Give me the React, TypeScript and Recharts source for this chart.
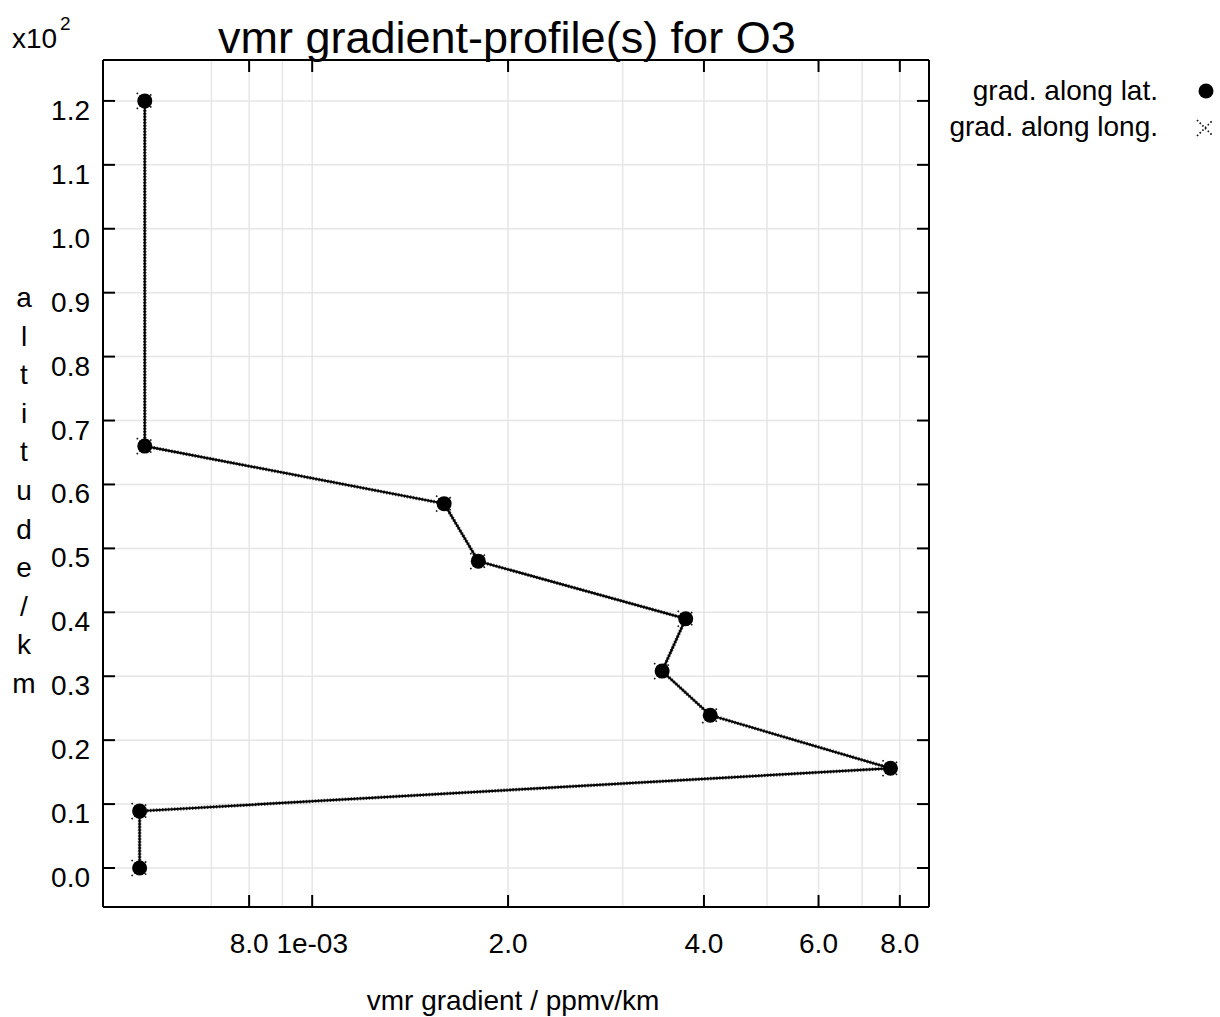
import {
  CartesianGrid,
  ReferenceLine,
  Scatter,
  ScatterChart,
  XAxis,
  YAxis,
} from 'recharts'

const FONT = '"Liberation Sans", Arial, sans-serif'

// altitude in km, gradients in ppmv/km
const altitudes = [120, 66, 57, 48, 39, 30.8, 23.9, 15.6, 8.9, 0]
const latGrad = [5.53e-4, 5.53e-4, 1.595e-3, 1.8e-3, 3.75e-3, 3.45e-3, 4.09e-3, 7.74e-3, 5.43e-4, 5.43e-4]
const lonGrad = [5.53e-4, 5.53e-4, 1.595e-3, 1.8e-3, 3.75e-3, 3.45e-3, 4.09e-3, 7.74e-3, 5.43e-4, 5.43e-4]

const xTicks = [8e-4, 1e-3, 2e-3, 4e-3, 6e-3, 8e-3]
const xTickLabels = ['8.0', '1e-03', '2.0', '4.0', '6.0', '8.0']
const xGrid = [7e-4, 8e-4, 9e-4, 1e-3, 2e-3, 3e-3, 4e-3, 5e-3, 6e-3, 7e-3, 8e-3]
const yTicks = [0, 10, 20, 30, 40, 50, 60, 70, 80, 90, 100, 110, 120]
const yLabelLetters = ['a', 'l', 't', 'i', 't', 'u', 'd', 'e', '/', 'k', 'm']

const latData = altitudes.map((a, i) => ({ x: latGrad[i], y: a }))
const lonData = altitudes.map((a, i) => ({ x: lonGrad[i], y: a }))

function BottomTick(props: any) {
  const { x, y, index } = props
  return (
    <g>
      <line x1={x} x2={x} y1={y} y2={y - 12} stroke='#000' strokeWidth={2} />
      <text x={x} y={y + 46} textAnchor='middle' fontSize={28} fill='#000' fontFamily={FONT}>
        {xTickLabels[index]}
      </text>
    </g>
  )
}

function TopTick(props: any) {
  const { x, y } = props
  return <line x1={x} x2={x} y1={y} y2={y + 12} stroke='#000' strokeWidth={2} />
}

function LeftTick(props: any) {
  const { x, y, payload } = props
  return (
    <g>
      <line x1={x} x2={x + 12} y1={y} y2={y} stroke='#000' strokeWidth={2} />
      <text x={x - 13} y={y + 19} textAnchor='end' fontSize={28} fill='#000' fontFamily={FONT}>
        {(payload.value / 100).toFixed(1)}
      </text>
    </g>
  )
}

function RightTick(props: any) {
  const { x, y } = props
  return <line x1={x} x2={x - 12} y1={y} y2={y} stroke='#000' strokeWidth={2} />
}

function Dot(props: any) {
  const { cx, cy } = props
  return <circle cx={cx} cy={cy} r={7.5} fill='#000' />
}

function Cross(props: any) {
  const { cx, cy } = props
  const d = 8
  return (
    <g stroke='#111' strokeWidth={1.6} strokeDasharray='1.6 2.2'>
      <line x1={cx - d} y1={cy - d} x2={cx + d} y2={cy + d} />
      <line x1={cx - d} y1={cy + d} x2={cx + d} y2={cy - d} />
    </g>
  )
}

export default function App() {
  return (
    <div style={{ position: 'absolute', left: 0, top: 0, width: 1220, height: 1017, background: '#fff', fontFamily: FONT }}>
      <ScatterChart width={1220} height={1017} margin={{ top: 59, right: 290, bottom: 50, left: 13 }}>
        <CartesianGrid xAxisId='b' yAxisId='l' vertical={false} stroke='#e6e6e6' strokeWidth={1.5} />
        {xGrid.map((v) => (
          <ReferenceLine key={v} xAxisId='b' yAxisId='l' x={v} stroke='#e6e6e6' strokeWidth={1.5} />
        ))}
        <XAxis
          xAxisId='b'
          dataKey='x'
          type='number'
          scale='log'
          domain={[4.77e-4, 8.87e-3]}
          allowDataOverflow
          ticks={xTicks}
          interval={0}
          tickSize={0}
          tickMargin={0}
          height={60}
          tick={<BottomTick />}
          axisLine={{ stroke: '#000', strokeWidth: 2 }}
          tickLine={false}
        />
        <XAxis
          xAxisId='t'
          orientation='top'
          dataKey='x'
          type='number'
          scale='log'
          domain={[4.77e-4, 8.87e-3]}
          allowDataOverflow
          ticks={xTicks}
          interval={0}
          tickSize={0}
          tickMargin={0}
          height={1}
          tick={<TopTick />}
          axisLine={{ stroke: '#000', strokeWidth: 2 }}
          tickLine={false}
        />
        <YAxis
          yAxisId='l'
          dataKey='y'
          type='number'
          domain={[-6.1, 126.4]}
          allowDataOverflow
          ticks={yTicks}
          interval={0}
          tickSize={0}
          tickMargin={0}
          width={90}
          tick={<LeftTick />}
          axisLine={{ stroke: '#000', strokeWidth: 2 }}
          tickLine={false}
        />
        <YAxis
          yAxisId='r'
          orientation='right'
          dataKey='y'
          type='number'
          domain={[-6.1, 126.4]}
          allowDataOverflow
          ticks={yTicks}
          interval={0}
          tickSize={0}
          tickMargin={0}
          width={1}
          tick={<RightTick />}
          axisLine={{ stroke: '#000', strokeWidth: 2 }}
          tickLine={false}
        />
        <Scatter
          xAxisId='b'
          yAxisId='l'
          data={lonData}
          line={{ stroke: '#444', strokeWidth: 3.5, strokeDasharray: '1.5 1.5' }}
          lineType='joint'
          shape={<Cross />}
          isAnimationActive={false}
        />
        <Scatter
          xAxisId='b'
          yAxisId='l'
          data={latData}
          line={{ stroke: '#000', strokeWidth: 2 }}
          lineType='joint'
          shape={<Dot />}
          isAnimationActive={false}
        />
      </ScatterChart>
      <svg
        width={1220}
        height={1017}
        style={{ position: 'absolute', left: 0, top: 0, pointerEvents: 'none' }}
        fontFamily={FONT}
      >
        <text x={218} y={53} fontSize={45} fill='#000'>
          vmr gradient-profile(s) for O3
        </text>
        <text x={12} y={48} fontSize={28} fill='#000'>
          x10
        </text>
        <text x={60} y={30} fontSize={19} fill='#000'>
          2
        </text>
        {yLabelLetters.map((c, i) => (
          <text key={i} x={24} y={307 + i * 38.6} textAnchor='middle' fontSize={28} fill='#000'>
            {c}
          </text>
        ))}
        <text x={513} y={1010} textAnchor='middle' fontSize={28} fill='#000'>
          vmr gradient / ppmv/km
        </text>
        <text x={1158} y={100} textAnchor='end' fontSize={28} fill='#000'>
          grad. along lat.
        </text>
        <text x={1158} y={136} textAnchor='end' fontSize={28} fill='#000'>
          grad. along long.
        </text>
        <Dot cx={1206} cy={91} />
        <Cross cx={1205} cy={128} />
      </svg>
    </div>
  )
}
